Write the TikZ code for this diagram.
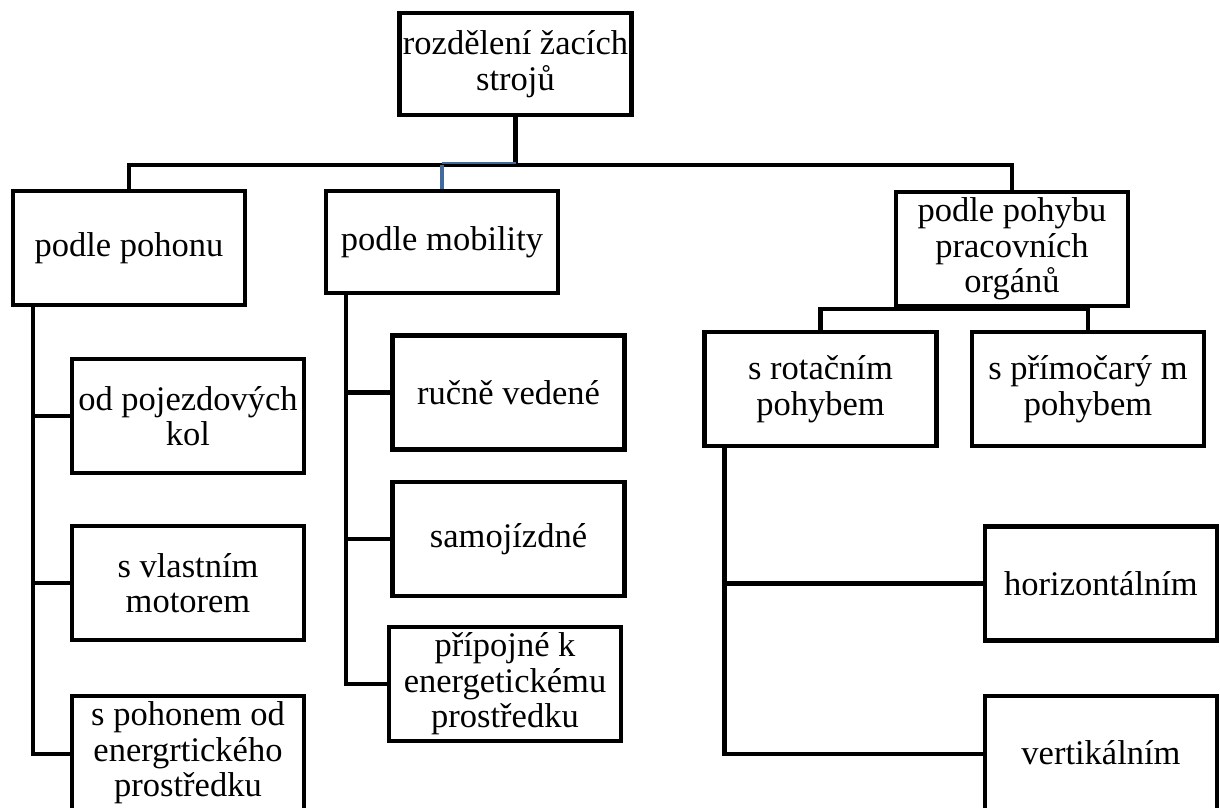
\documentclass[tikz,border=0pt]{standalone}
\usepackage{fontspec}
\setmainfont{Liberation Serif}
\definecolor{LinkBlue}{RGB}{66,106,156}

\begin{document}
\begin{tikzpicture}[x=1pt,y=-1pt,
  box/.style={draw,line width=4.5pt,align=center,inner sep=0pt,
    minimum width=232pt,minimum height=114pt,
    font=\fontsize{34.5}{35.5}\selectfont},
  link/.style={line width=4.5pt},
  bluelink/.style={line width=4pt,color=LinkBlue}]
\clip (0,0) rectangle (1220,807);

\coordinate (bus) at (0,165);
\coordinate (busb) at (0,163);
\coordinate (sbus) at (0,309);

\node[box,minimum height=102pt] (root) at (515.5,64) {rozdělení žacích\\strojů};

\node[box] (pohonu) at (129,248) {podle pohonu};
\node[box,minimum height=102pt] (mobil) at (442,242) {podle mobility};
\node[box] (pohybu) at (1012,249) {podle pohybu\\pracovních\\orgánů};

\node[box] (kola) at (188,416) {od pojezdových\\kol};
\node[box] (motor) at (188,583) {s vlastním\\motorem};
\node[box] (energ) at (188,753) {s pohonem od\\energrtického\\prostředku};

\node[box] (rucne) at (508.5,392.5) {ručně vedené};
\node[box] (samo) at (508.5,539) {samojízdné};
\node[box] (pripoj) at (505,684) {přípojné k\\energetickému\\prostředku};

\node[box] (rotac) at (820.5,389) {s rotačním\\pohybem};
\node[box] (primo) at (1088,389) {s přímočarý m\\pohybem};
\node[box] (horiz) at (1101,583.5) {horizontálním};
\node[box] (vert) at (1101,753) {vertikálním};

\draw[link] (root.south) -- (root.south |- bus);
\draw[link] (pohonu.north) -- (pohonu.north |- bus) -| (pohybu.north);
\draw[bluelink] (mobil.north) -- (mobil.north |- bus);
\draw[bluelink,line width=2pt] (mobil.north |- busb) -- (root.south |- busb);

\draw[link] ([xshift=22pt]pohonu.south west) |- ([yshift=-1pt]energ.west);
\draw[link] ([xshift=22pt]pohonu.south west) |- (kola.west);
\draw[link] ([xshift=22pt]pohonu.south west) |- (motor.west);

\draw[link] ([xshift=22pt]mobil.south west) |- (pripoj.west);
\draw[link] ([xshift=22pt]mobil.south west) |- (rucne.west);
\draw[link] ([xshift=22pt]mobil.south west) |- (samo.west);

\draw[link] (rotac.north) -- (rotac.north |- sbus) -| (primo.north);
\draw[link] ([xshift=22pt]rotac.south west) |- ([yshift=-1pt]vert.west);
\draw[link] ([xshift=22pt]rotac.south west) |- (horiz.west);

\end{tikzpicture}
\end{document}
